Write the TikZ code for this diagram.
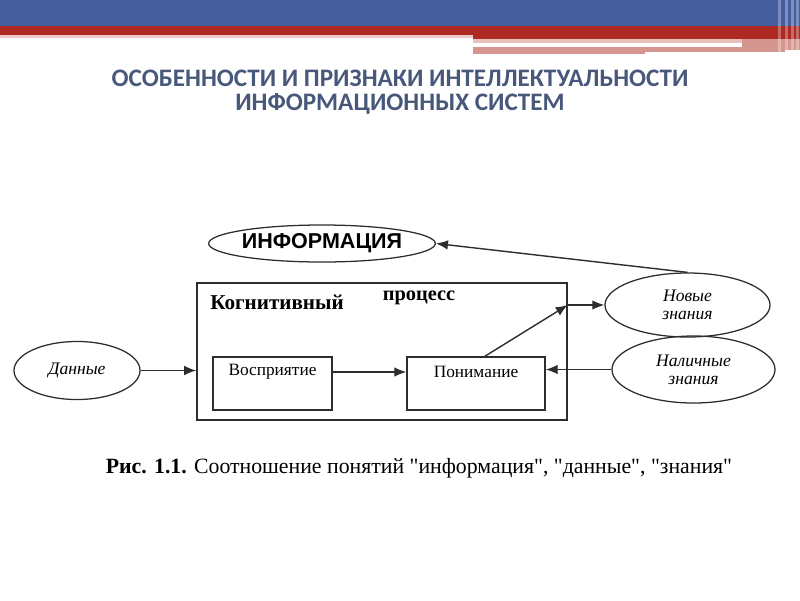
\documentclass[tikz,border=0pt]{standalone}
\usepackage{fontspec}
\setmainfont{Liberation Serif}[Ligatures=TeXOff]
\newfontfamily\titlefont{Carlito}
\newfontfamily\arialfont{Liberation Sans}
\usepackage{tikz}
\usetikzlibrary{positioning}
\usetikzlibrary{shapes.geometric, arrows.meta}
\definecolor{barblue}{RGB}{68,94,158}
\definecolor{barred}{RGB}{172,42,34}
\definecolor{barpink}{RGB}{214,150,144}
\definecolor{titleblue}{RGB}{72,88,122}
\definecolor{linegray}{RGB}{45,45,45}

\begin{document}
\begin{tikzpicture}[x=0.025cm,y=-0.025cm,
  title/.style={font=\titlefont\bfseries\fontsize{17.9}{20}\selectfont,text=titleblue},
  oval/.style={ellipse,draw=linegray,line width=0.9pt,inner sep=0pt,font=\itshape\fontsize{12.5}{13}\selectfont,align=center},
  frame/.style={rectangle,draw=linegray,line width=1pt,inner sep=0pt},
  arr/.style={draw=linegray,line width=1pt,-{Latex[length=0.3cm,width=0.24cm]}}]
\useasboundingbox (0,0) rectangle (800,600);
% top bars
\fill[barblue] (0,0) rectangle (800,27);
\fill[barred] (0,26) rectangle (800,35);
\fill[barpink!50] (0,35) rectangle (473,38);
\fill[barred] (473,35) rectangle (800,39);
\fill[barpink!60] (473,39) rectangle (800,43);
\fill[barpink] (742,39) rectangle (800,50);
\fill[barpink] (473,47) rectangle (645,54);
\fill[barpink] (645,47) rectangle (785,52);
\foreach \x in {778,785,791,796}
  \fill[white,opacity=0.3] (\x,0) rectangle (\x+2.5,56);

\node[title] (t1) at (400,78) {ОСОБЕННОСТИ И ПРИЗНАКИ ИНТЕЛЛЕКТУАЛЬНОСТИ};
\node[title] (t2) at (400,104) {ИНФОРМАЦИОННЫХ СИСТЕМ};

% diagram
\node[oval,minimum width=5cm,minimum height=0.925cm,font=\arialfont\bfseries\fontsize{15.3}{17}\selectfont] (info) at (322,243.5) {ИНФОРМАЦИЯ};
\node[frame,minimum width=9.25cm,minimum height=3.425cm] (proc) at (382,351.5) {};
\node[font=\bfseries\fontsize{15}{16}\selectfont] (kog) at (277,302) {Когнитивный};
\node[font=\bfseries\fontsize{14.5}{16}\selectfont] (prc) at (419,298) {процесс};

\node[frame,minimum width=2.975cm,minimum height=1.325cm] (vos) at (272.5,383.5) {};
\node[font=\fontsize{12.3}{13}\selectfont] (vostext) at (272.5,372) {Восприятие};
\node[frame,minimum width=3.45cm,minimum height=1.325cm] (pon) at (476,383.5) {};
\node[font=\fontsize{12.3}{13}\selectfont] (pontext) at (476,372) {Понимание};

\node[oval,minimum width=3.15cm,minimum height=1.45cm] (dan) at (77,370.5) {Данные};
\node[oval,minimum width=4.125cm,minimum height=1.6cm] (nov) at (687.5,305) {Новые\\знания};
\node[oval,minimum width=4.075cm,minimum height=1.675cm] (nal) at (693.5,369.5) {Наличные\\знания};

\coordinate (k) at (nov.west -| proc.east);
\draw[arr] (dan.east) -- (dan.east -| proc.west);
\draw[arr] (vostext -| vos.east) -- (vostext -| pon.west);
\draw[arr] ([xshift=0.22cm]pon.north) -- (k);
\draw[arr] (k) -- (nov.west);
\draw[arr] (nal.west) -- (nal.west -| pon.east);
\draw[arr] (nov.north) -- (info.east);

\node (cap) at (419,468) {\fontsize{15.5}{17}\selectfont\textbf{Рис. 1.1.} Соотношение понятий "информация", "данные", "знания"};
\end{tikzpicture}
\end{document}
